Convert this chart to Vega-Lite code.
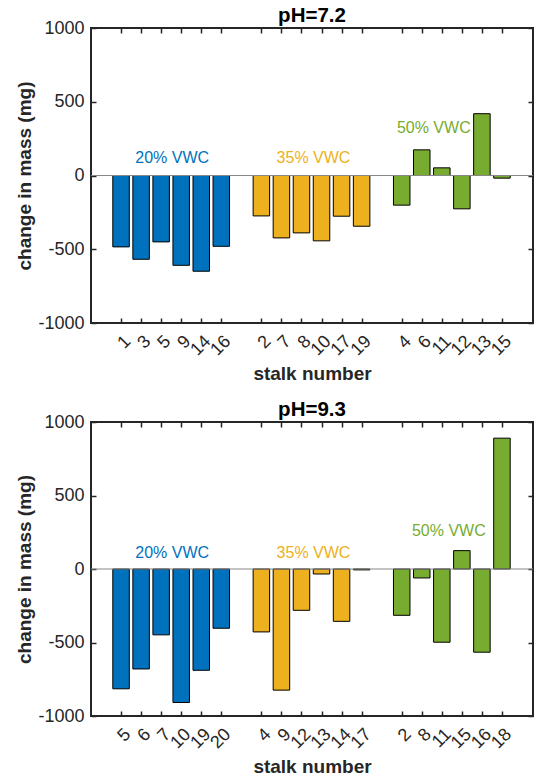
{
  "$schema": "https://vega.github.io/schema/vega-lite/v6.json",
  "padding": {"left": 14, "top": 4, "right": 1, "bottom": 0},
  "spacing": 13,
  "config": {
    "font": "Liberation Sans",
    "view": {"stroke": "#262626", "strokeWidth": 2},
    "axis": {"domain": false, "grid": false, "labelFont": "Liberation Sans", "labelFontSize": 18, "labelColor": "#262626", "tickColor": "#262626", "tickWidth": 1.5, "titleFont": "Liberation Sans", "titleFontSize": 19, "titleFontWeight": "bold", "titleColor": "#262626"},
    "title": {"font": "Liberation Sans", "fontSize": 20.5, "fontWeight": "bold", "color": "#000000", "offset": -7}
  },
  "datasets": {
    "bars": [
      {"panel": "7.2", "stalk": "1", "pos": 1, "value": -484, "group": "20% VWC"},
      {"panel": "7.2", "stalk": "3", "pos": 2, "value": -568, "group": "20% VWC"},
      {"panel": "7.2", "stalk": "5", "pos": 3, "value": -450, "group": "20% VWC"},
      {"panel": "7.2", "stalk": "9", "pos": 4, "value": -609, "group": "20% VWC"},
      {"panel": "7.2", "stalk": "14", "pos": 5, "value": -649, "group": "20% VWC"},
      {"panel": "7.2", "stalk": "16", "pos": 6, "value": -480, "group": "20% VWC"},
      {"panel": "7.2", "stalk": "2", "pos": 8, "value": -274, "group": "35% VWC"},
      {"panel": "7.2", "stalk": "7", "pos": 9, "value": -423, "group": "35% VWC"},
      {"panel": "7.2", "stalk": "8", "pos": 10, "value": -389, "group": "35% VWC"},
      {"panel": "7.2", "stalk": "10", "pos": 11, "value": -443, "group": "35% VWC"},
      {"panel": "7.2", "stalk": "17", "pos": 12, "value": -276, "group": "35% VWC"},
      {"panel": "7.2", "stalk": "19", "pos": 13, "value": -344, "group": "35% VWC"},
      {"panel": "7.2", "stalk": "4", "pos": 15, "value": -201, "group": "50% VWC"},
      {"panel": "7.2", "stalk": "6", "pos": 16, "value": 174, "group": "50% VWC"},
      {"panel": "7.2", "stalk": "11", "pos": 17, "value": 52, "group": "50% VWC"},
      {"panel": "7.2", "stalk": "12", "pos": 18, "value": -226, "group": "50% VWC"},
      {"panel": "7.2", "stalk": "13", "pos": 19, "value": 419, "group": "50% VWC"},
      {"panel": "7.2", "stalk": "15", "pos": 20, "value": -18, "group": "50% VWC"},
      {"panel": "9.3", "stalk": "5", "pos": 1, "value": -815, "group": "20% VWC"},
      {"panel": "9.3", "stalk": "6", "pos": 2, "value": -680, "group": "20% VWC"},
      {"panel": "9.3", "stalk": "7", "pos": 3, "value": -448, "group": "20% VWC"},
      {"panel": "9.3", "stalk": "10", "pos": 4, "value": -908, "group": "20% VWC"},
      {"panel": "9.3", "stalk": "19", "pos": 5, "value": -689, "group": "20% VWC"},
      {"panel": "9.3", "stalk": "20", "pos": 6, "value": -403, "group": "20% VWC"},
      {"panel": "9.3", "stalk": "4", "pos": 8, "value": -428, "group": "35% VWC"},
      {"panel": "9.3", "stalk": "9", "pos": 9, "value": -824, "group": "35% VWC"},
      {"panel": "9.3", "stalk": "12", "pos": 10, "value": -281, "group": "35% VWC"},
      {"panel": "9.3", "stalk": "13", "pos": 11, "value": -34, "group": "35% VWC"},
      {"panel": "9.3", "stalk": "14", "pos": 12, "value": -356, "group": "35% VWC"},
      {"panel": "9.3", "stalk": "17", "pos": 13, "value": -6, "group": "35% VWC"},
      {"panel": "9.3", "stalk": "2", "pos": 15, "value": -315, "group": "50% VWC"},
      {"panel": "9.3", "stalk": "8", "pos": 16, "value": -61, "group": "50% VWC"},
      {"panel": "9.3", "stalk": "11", "pos": 17, "value": -498, "group": "50% VWC"},
      {"panel": "9.3", "stalk": "15", "pos": 18, "value": 125, "group": "50% VWC"},
      {"panel": "9.3", "stalk": "16", "pos": 19, "value": -566, "group": "50% VWC"},
      {"panel": "9.3", "stalk": "18", "pos": 20, "value": 890, "group": "50% VWC"}
    ],
    "notes": [
      {"panel": "7.2", "text": "20% VWC", "pos": 3.55, "value": 120, "group": "20% VWC"},
      {"panel": "7.2", "text": "35% VWC", "pos": 10.6, "value": 120, "group": "35% VWC"},
      {"panel": "7.2", "text": "50% VWC", "pos": 16.6, "value": 319, "group": "50% VWC"},
      {"panel": "9.3", "text": "20% VWC", "pos": 3.55, "value": 110, "group": "20% VWC"},
      {"panel": "9.3", "text": "35% VWC", "pos": 10.6, "value": 110, "group": "35% VWC"},
      {"panel": "9.3", "text": "50% VWC", "pos": 17.35, "value": 256, "group": "50% VWC"}
    ]
  },
  "vconcat": [
    {
      "title": {"text": "pH=7.2"},
      "width": 442,
      "height": 295,
      "layer": [
        {
          "data": {"name": "bars"},
          "transform": [{"filter": "datum.panel == '7.2'"}],
          "mark": {"type": "bar", "size": 16.5, "stroke": "#000000", "strokeWidth": 1},
          "encoding": {
            "x": {"field": "pos", "type": "quantitative", "scale": {"domain": [-0.25, 21.3], "nice": false, "zero": false},
              "axis": {"title": "stalk number", "values": [1,2,3,4,5,6,8,9,10,11,12,13,15,16,17,18,19,20], "tickSize": -5, "labelAngle": -45, "labelAlign": "right", "labelBaseline": "top", "labelPadding": 14, "labelOverlap": false, "labelBound": false, "labelFlush": false, "titlePadding": 6,
                "labelExpr": "['','1','3','5','9','14','16','','2','7','8','10','17','19','','4','6','11','12','13','15'][datum.value]"}},
            "y": {"field": "value", "type": "quantitative", "scale": {"domain": [-1000, 1000], "nice": false},
              "axis": {"title": "change in mass (mg)", "values": [-1000, -500, 0, 500, 1000], "labelExpr": "datum.value + ''", "tickSize": -5, "labelPadding": 12, "titlePadding": 3}},
            "color": {"field": "group", "type": "nominal", "scale": {"domain": ["20% VWC", "35% VWC", "50% VWC"], "range": ["#0072BD", "#EDB120", "#77AC30"]}, "legend": null}
          }
        },
        {
          "data": {"values": [{"z": 0}]},
          "mark": {"type": "rule", "color": "#888888", "strokeWidth": 1},
          "encoding": {"y": {"datum": 0, "axis": null}}
        },
        {
          "data": {"name": "notes"},
          "transform": [{"filter": "datum.panel == '7.2'"}],
          "mark": {"type": "text", "fontSize": 16, "align": "center", "baseline": "middle"},
          "encoding": {
            "x": {"field": "pos", "type": "quantitative", "axis": null},
            "y": {"field": "value", "type": "quantitative", "axis": null},
            "text": {"field": "text"},
            "color": {"field": "group", "type": "nominal", "legend": null}
          }
        },
        {
          "data": {"name": "bars"},
          "transform": [{"filter": "datum.panel == '7.2'"}],
          "mark": {"type": "point", "opacity": 0},
          "encoding": {
            "x": {"field": "pos", "type": "quantitative", "axis": {"orient": "top", "title": null, "labels": false, "values": [1,2,3,4,5,6,8,9,10,11,12,13,15,16,17,18,19,20], "tickSize": -5, "minExtent": 0, "maxExtent": 0, "labelPadding": 0}},
            "y": {"field": "value", "type": "quantitative", "axis": {"orient": "right", "title": null, "labels": false, "values": [-1000, -500, 0, 500, 1000], "tickSize": -5, "minExtent": 0, "maxExtent": 0, "labelPadding": 0}}
          }
        }
      ],
      "resolve": {"axis": {"x": "independent", "y": "independent"}}
    },
    {
      "title": {"text": "pH=9.3"},
      "width": 442,
      "height": 294,
      "layer": [
        {
          "data": {"name": "bars"},
          "transform": [{"filter": "datum.panel == '9.3'"}],
          "mark": {"type": "bar", "size": 16.5, "stroke": "#000000", "strokeWidth": 1},
          "encoding": {
            "x": {"field": "pos", "type": "quantitative", "scale": {"domain": [-0.25, 21.3], "nice": false, "zero": false},
              "axis": {"title": "stalk number", "values": [1,2,3,4,5,6,8,9,10,11,12,13,15,16,17,18,19,20], "tickSize": -5, "labelAngle": -45, "labelAlign": "right", "labelBaseline": "top", "labelPadding": 14, "labelOverlap": false, "labelBound": false, "labelFlush": false, "titlePadding": 6,
                "labelExpr": "['','5','6','7','10','19','20','','4','9','12','13','14','17','','2','8','11','15','16','18'][datum.value]"}},
            "y": {"field": "value", "type": "quantitative", "scale": {"domain": [-1000, 1000], "nice": false},
              "axis": {"title": "change in mass (mg)", "values": [-1000, -500, 0, 500, 1000], "labelExpr": "datum.value + ''", "tickSize": -5, "labelPadding": 12, "titlePadding": 3}},
            "color": {"field": "group", "type": "nominal", "scale": {"domain": ["20% VWC", "35% VWC", "50% VWC"], "range": ["#0072BD", "#EDB120", "#77AC30"]}, "legend": null}
          }
        },
        {
          "data": {"values": [{"z": 0}]},
          "mark": {"type": "rule", "color": "#888888", "strokeWidth": 1},
          "encoding": {"y": {"datum": 0, "axis": null}}
        },
        {
          "data": {"name": "notes"},
          "transform": [{"filter": "datum.panel == '9.3'"}],
          "mark": {"type": "text", "fontSize": 16, "align": "center", "baseline": "middle"},
          "encoding": {
            "x": {"field": "pos", "type": "quantitative", "axis": null},
            "y": {"field": "value", "type": "quantitative", "axis": null},
            "text": {"field": "text"},
            "color": {"field": "group", "type": "nominal", "legend": null}
          }
        },
        {
          "data": {"name": "bars"},
          "transform": [{"filter": "datum.panel == '9.3'"}],
          "mark": {"type": "point", "opacity": 0},
          "encoding": {
            "x": {"field": "pos", "type": "quantitative", "axis": {"orient": "top", "title": null, "labels": false, "values": [1,2,3,4,5,6,8,9,10,11,12,13,15,16,17,18,19,20], "tickSize": -5, "minExtent": 0, "maxExtent": 0, "labelPadding": 0}},
            "y": {"field": "value", "type": "quantitative", "axis": {"orient": "right", "title": null, "labels": false, "values": [-1000, -500, 0, 500, 1000], "tickSize": -5, "minExtent": 0, "maxExtent": 0, "labelPadding": 0}}
          }
        }
      ],
      "resolve": {"axis": {"x": "independent", "y": "independent"}}
    }
  ]
}
